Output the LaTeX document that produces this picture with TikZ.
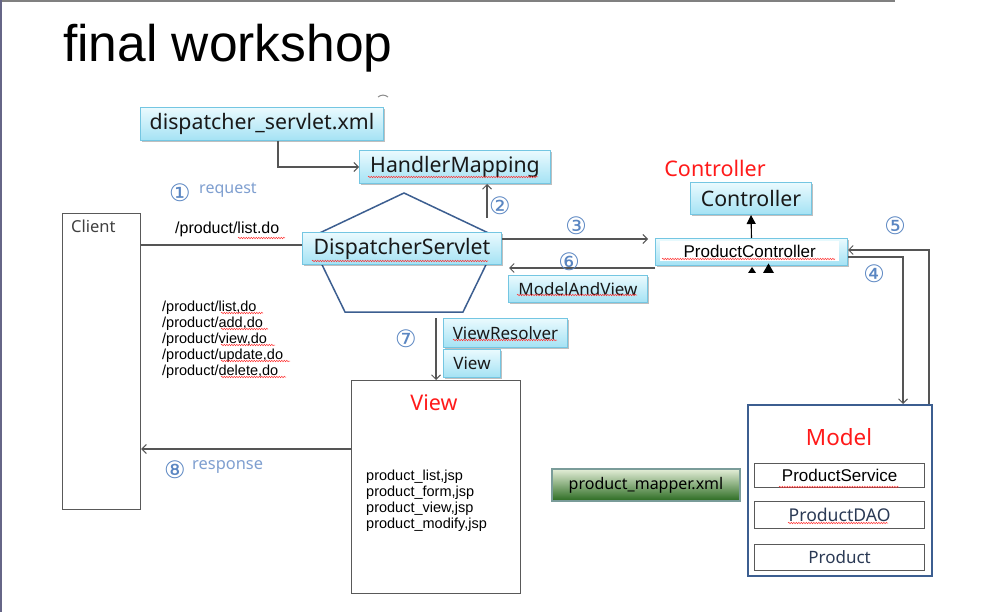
\documentclass[tikz,border=0pt]{standalone}
\usepackage{fontspec}
\setmainfont{Liberation Sans}
\newfontfamily\kf{Noto Sans}
\newfontfamily\dv{DejaVu Sans}
\usetikzlibrary{arrows.meta,shadows,decorations.pathmorphing,calc}
\definecolor{boxtop}{HTML}{EAFAFE}
\definecolor{boxbot}{HTML}{A4E2F4}
\definecolor{boxline}{HTML}{74C6E2}
\definecolor{numblue}{HTML}{5A86C2}
\definecolor{lblblue}{HTML}{7F9FD0}
\definecolor{linegray}{HTML}{555555}
\definecolor{modelblue}{HTML}{3C5E90}
\definecolor{redlbl}{HTML}{FF1A1A}
\definecolor{slate}{HTML}{2B3A55}
\definecolor{maptop}{HTML}{E4EED8}
\definecolor{mapmid}{HTML}{7FAE62}
\definecolor{mapbot}{HTML}{2A6B20}
\definecolor{mapline}{HTML}{7A9C99}
\newcommand\fsz[1]{\fontsize{#1}{#1}\selectfont}
\begin{document}
\begin{tikzpicture}[x=1pt,y=-1pt,
  bluebox/.style={draw=boxline, line width=1pt, top color=boxtop, bottom color=boxbot,
    anchor=north west, inner sep=0pt, text=black!90,
    drop shadow={shadow xshift=1.5pt,shadow yshift=-1.5pt,fill=black,opacity=0.25}},
  plainbox/.style={draw=black!65, line width=1.2pt, anchor=north west, inner sep=0pt},
  conn/.style={draw=linegray, line width=1.1pt},
  arr/.style={conn, -{Straight Barb[length=4.5pt,width=9pt,line width=1pt]}},
  num/.style={font=\dv\fsz{24}, text=numblue, inner sep=0pt},
  squig/.style={draw=red!80!white, line width=0.5pt, decorate,
    decoration={snake, amplitude=0.7pt, segment length=2.5pt}},
  redlabel/.style={font=\kf\fsz{21.5}, text=redlbl, inner sep=0pt}
]
\useasboundingbox (0,0) rectangle (990,612);
\fill[white] (0,0) rectangle (990,612);
% frame lines
\draw[draw=black!50, line width=2pt] (0,1) -- (895,1);
\draw[draw=black!35!blue!20!gray, line width=2pt] (1,0) -- (1,612);
\draw[draw=black!45, line width=1pt] (378,97) to[bend left=40] (388,97);

% title
\node[anchor=base west, font=\fsz{51.5}, inner sep=0pt] (title) at (63,62) {final workshop};

% top boxes
\node[bluebox, minimum width=243pt, minimum height=33pt, font=\kf\fsz{21.3}] (xml) at (140,107) {dispatcher\_servlet.xml};
\node[bluebox, minimum width=191pt, minimum height=33pt, font=\kf\fsz{21.3}] (hm) at (359,150) {HandlerMapping};

% pentagon
\draw[draw=modelblue, line width=1.5pt] (404,193) -- (499,238) -- (463,312) -- (345,312) -- (309,238) -- cycle;
\node[bluebox, minimum width=199pt, minimum height=32pt, font=\kf\fsz{21.3}] (ds) at (302,232) {DispatcherServlet};

% controller side
\node[redlabel] (ctrllbl) at (715,168) {Controller};
\node[bluebox, minimum width=121pt, minimum height=32pt, font=\kf\fsz{21.3}] (ctrl) at (690,182) {Controller};
\node[bluebox, minimum width=192pt, minimum height=27pt] (pc) at (655,238) {};
\node[fill=white, anchor=north west, minimum width=179pt, minimum height=20pt, inner sep=0pt, font=\fsz{17}] (pct) at (660,241) {ProductController};
\node[bluebox, minimum width=139pt, minimum height=27pt, font=\kf\fsz{17}] (mav) at (508,275) {ModelAndView};

% view resolver
\node[bluebox, minimum width=124pt, minimum height=29pt, font=\kf\fsz{17}] (vr) at (443,318) {ViewResolver};
\node[bluebox, minimum width=57pt, minimum height=28pt, font=\kf\fsz{17}] (vw) at (443,349) {View};

% client
\node[plainbox, minimum width=78pt, minimum height=296pt] (client) at (62,213) {};
\node[anchor=west, font=\kf\fsz{16.5}, text=black!75, inner sep=0pt] (clientlbl) at (71,226) {Client};

% view box
\node[plainbox, minimum width=169pt, minimum height=213pt] (view) at (351,380) {};
\node[redlabel] (viewlbl) at (434,403) {View};
\foreach \t [count=\i] in {list,form,view,modify}
  \node[anchor=base west, font=\fsz{14.5}, inner sep=0pt] (jsp\i) at (366,463.7+16.3*\i) {product\_\t,jsp};

% model
\node[draw=modelblue, line width=1.6pt, anchor=north west, minimum width=184pt, minimum height=171pt, inner sep=0pt] (model) at (747,404) {};
\node[redlabel, font=\kf\fsz{22.4}] (modellbl) at (839,437) {Model};
\node[plainbox, minimum width=170pt, minimum height=24pt, font=\fsz{17}] (ps) at (754,463) {ProductService};
\node[plainbox, minimum width=170pt, minimum height=27pt, font=\kf\fsz{17.6}, text=slate] (dao) at (754,501) {ProductDAO};
\node[plainbox, minimum width=170pt, minimum height=26pt, font=\kf\fsz{17}, text=slate] (prod) at (754,544) {Product};

% mapper
\node[draw=mapline, line width=2pt, top color=maptop, middle color=mapmid, bottom color=mapbot,
  anchor=north west, minimum width=188pt, minimum height=32pt, inner sep=0pt, font=\kf\fsz{16}] (mapper) at (551,468) {product\_mapper.xml};

% URL texts
\node[anchor=base west, font=\fsz{16}, inner sep=0pt] (u0) at (175,234) {/product/list.do};
\foreach \t [count=\i] in {list,add,view,update,delete}
  \node[anchor=base west, font=\fsz{14.5}, inner sep=0pt] (url\i) at (162,295+16*\i) {/product/\t,do};

% connectors
\draw[arr] ($(xml.south west)+(138,0)$) |- (hm.west);
\coordinate (c2) at (487,218);
\draw[arr] (c2) -- (c2 |- hm.south);
\coordinate (y245) at (0,245);
\draw[conn] (client.east |- y245) -- (ds.west |- y245);
\coordinate (y239) at (0,239);
\draw[arr, shorten >=7pt] (ds.east |- y239) -- (pc.west |- y239);
\coordinate (y268) at (0,268);
\draw[arr, shorten >=7pt] (pc.west |- y268) -- (ds.east |- y268);
\draw[conn, -{Triangle[length=9pt,width=9pt]}, black] (pc.north) -- (ctrl.south);
\fill[black] (748,273) -- (752,267) -- (756,273) -- cycle;
\fill[black] (763,273) -- (768.5,263.5) -- (774,273) -- cycle;
\coordinate (y257) at (0,257);
\coordinate (x903) at (903,0);
\draw[arr] (pc.east |- y257) -| (model.north -| x903);
\coordinate (y250) at (0,250);
\coordinate (x929) at (929,0);
\draw[arr] (model.north -| x929) |- (pc.east |- y250);
\coordinate (c7) at (436,318);
\draw[arr] (c7) -- (c7 |- view.north);
\coordinate (y449) at (0,449);
\draw[arr] (view.west |- y449) -- (client.east |- y449);

% numbers
\node[num] (n1) at (180,193) {①};
\node[anchor=west, font=\kf\fsz{16}, text=lblblue, inner sep=0pt] (req) at (199,190) {request};
\node[num] (n2) at (500,206) {②};
\node[num] (n3) at (576,226) {③};
\node[num] (n4) at (874,274) {④};
\node[num] (n5) at (895,226) {⑤};
\node[num] (n6) at (569,262) {⑥};
\node[num] (n7) at (406,339) {⑦};
\node[num] (n8) at (175,470) {⑧};
\node[anchor=west, font=\kf\fsz{16.4}, text=lblblue, inner sep=0pt] (resp) at (192,467) {response};

% spell-check squiggles
\draw[squig] (238,238) -- (285,238);
\draw[squig] (368,177) -- (538,177);
\draw[squig] (312,261) -- (488,261);
\draw[squig] (517,295) -- (637,295);
\draw[squig] (453,340) -- (557,340);
\draw[squig] (662,259) -- (835,259);
\draw[squig] (779,487) -- (899,487);
\draw[squig] (788,523) -- (888,523);
\draw[squig] (221,313) -- (263,313);
\draw[squig] (221,329) -- (268,329);
\draw[squig] (221,345) -- (275,345);
\draw[squig] (221,361) -- (290,361);
\draw[squig] (221,377) -- (286,377);
\end{tikzpicture}
\end{document}
